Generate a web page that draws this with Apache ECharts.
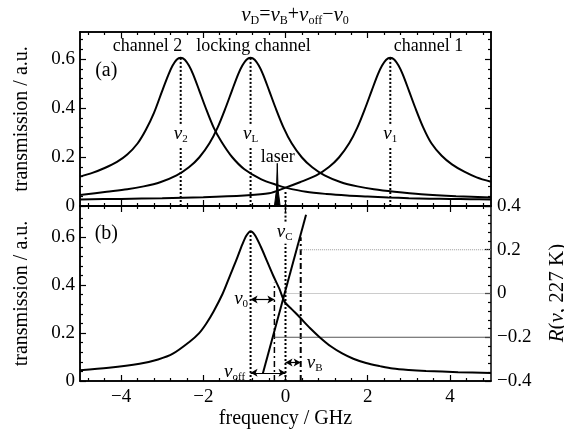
<!DOCTYPE html>
<html><head><meta charset="utf-8">
<script src="https://cdn.jsdelivr.net/npm/echarts@6/dist/echarts.min.js"></script>
<style>html,body{margin:0;padding:0;background:#fff}#c{width:564px;height:430px}</style>
</head><body><div id="c"></div>
<script>
// ---------- data ----------
const freqTicks = [-4, -2, 0, 2, 4];
const freqMinorTicks = [-4.8,-4.4,-3.6,-3.2,-2.8,-2.4,-1.6,-1.2,-0.8,-0.4,0.4,0.8,1.2,1.6,2.4,2.8,3.2,3.6,4.4,4.8];
const transTicks = [0, 0.2, 0.4, 0.6];
const transMinorTicks = [0.04,0.08,0.12,0.16,0.24,0.28,0.32,0.36,0.44,0.48,0.52,0.56,0.64,0.68];
const rTicks = [-0.4, -0.2, 0, 0.2, 0.4];

// panel (a): channel 2
const ch2Freq  = [-5,-4.7,-4.4,-4.1,-3.85,-3.6,-3.4,-3.2,-3,-2.85,-2.75,-2.65,-2.55,-2.45,-2.35,-2.25,-2.1,-1.95,-1.75,-1.55,-1.3,-1,-0.6,-0.2,0,0.5,1,1.5,2,2.5,3,3.5,4,4.5,5];
const ch2Trans = [0.12,0.135,0.155,0.18,0.21,0.255,0.31,0.38,0.47,0.535,0.572,0.597,0.605,0.597,0.573,0.538,0.472,0.404,0.321,0.26,0.2,0.15,0.11,0.085,0.075,0.058,0.049,0.043,0.039,0.035,0.032,0.03,0.029,0.028,0.027];
// panel (a): locking channel
const lockAFreq  = [-5,-4.35,-3.85,-3.45,-3.05,-2.65,-2.35,-2.1,-1.85,-1.65,-1.45,-1.3,-1.15,-1.05,-0.95,-0.85,-0.75,-0.65,-0.55,-0.4,-0.25,-0.05,0.15,0.4,0.65,0.95,1.35,1.75,2.15,2.65,3.3,4.15,5];
const lockATrans = [0.045,0.058,0.068,0.08,0.097,0.125,0.158,0.198,0.256,0.321,0.404,0.472,0.538,0.573,0.597,0.605,0.597,0.573,0.538,0.472,0.404,0.321,0.256,0.198,0.158,0.125,0.097,0.08,0.068,0.058,0.048,0.04,0.035];
// panel (a): channel 1
const ch1Freq  = [-5,-4,-3,-2,-1,-0.4,0,0.35,0.75,1.05,1.3,1.55,1.75,1.95,2.1,2.25,2.35,2.45,2.55,2.65,2.75,2.85,3,3.15,3.35,3.55,3.8,4.05,4.35,4.65,5];
const ch1Trans = [0.027,0.029,0.032,0.036,0.043,0.052,0.075,0.097,0.125,0.158,0.198,0.256,0.321,0.404,0.472,0.538,0.573,0.597,0.605,0.597,0.573,0.538,0.472,0.404,0.321,0.256,0.205,0.17,0.14,0.117,0.099];
const modeFreqs = [-2.55, -0.85, 2.55];
const modePeaks = [0.605, 0.605, 0.605];
const modeNames = ['2', 'L', '1'];
const laserFreq  = [-0.27, -0.22, -0.2, -0.18, -0.13];
const laserTrans = [0, 0.065, 0.174, 0.065, 0];

// panel (b): locking channel
const lockBFreq  = [-5,-4.3,-3.55,-3.1,-2.74,-2.34,-2.1,-1.93,-1.75,-1.53,-1.35,-1.2,-1.05,-0.95,-0.85,-0.75,-0.6,-0.45,-0.3,-0.15,-0.02,0.15,0.34,0.6,0.83,1.1,1.39,1.65,1.96,2.3,2.61,3,3.42,4.2,5];
const lockBTrans = [0.045,0.055,0.072,0.09,0.114,0.163,0.2,0.239,0.29,0.364,0.44,0.503,0.57,0.607,0.625,0.61,0.56,0.5,0.44,0.385,0.33,0.3,0.267,0.22,0.183,0.145,0.114,0.093,0.075,0.062,0.052,0.046,0.042,0.037,0.033];
const rLineFreq = [-0.55, 0.50];
const rLineVal  = [-0.365, 0.36];
const nuL = -0.85, nuC = 0, nu0pos = -0.27, nuBpos = 0.37;
const rLevels = [0.2, 0, -0.2];
const rLevelStart = [0.35, 0, -0.27];

// ---------- chart ----------
const FONT = 'Liberation Serif';
const rich = {
  n: {fontFamily: FONT, fontStyle: 'italic', fontSize: 19, color: '#000'},
  s: {fontFamily: FONT, fontSize: 11, color: '#000', padding: [10, 0, 0, 0]},
  t: {fontFamily: FONT, fontSize: 18, color: '#000'}
};
const titleRich = {
  n: {fontFamily: FONT, fontStyle: 'italic', fontSize: 21, color: '#000'},
  s: {fontFamily: FONT, fontSize: 12, color: '#000', padding: [11, 0, 0, 0]},
  t: {fontFamily: FONT, fontSize: 20, color: '#000'}
};
const nu = s => `{n|ν}{s|${s}}`;
const minus = v => (v < 0 ? '\u2212' + Math.abs(v) : String(v));
const zip = (a, b) => a.map((v, i) => [v, b[i]]);
const AX = {lineStyle: {color: '#000', width: 1.5}, onZero: false};

function xAx(grid, pos, ticks, len, labels, extra) {
  return Object.assign({
    type: 'value', gridIndex: grid, position: pos, min: -5, max: 5,
    axisLine: AX, splitLine: {show: false},
    axisTick: {show: true, inside: true, length: len, customValues: ticks, lineStyle: {color: '#000', width: 1.2}},
    axisLabel: labels ? {show: true, customValues: ticks, formatter: minus, fontFamily: FONT, fontSize: 19, color: '#000', margin: 7} : {show: false}
  }, extra || {});
}
function yAx(grid, pos, min, max, ticks, len, labels, extra) {
  return Object.assign({
    type: 'value', gridIndex: grid, position: pos, min: min, max: max,
    axisLine: AX, splitLine: {show: false},
    axisTick: {show: true, inside: true, length: len, customValues: ticks, lineStyle: {color: '#000', width: 1.2}},
    axisLabel: labels ? {show: true, customValues: ticks, formatter: minus, fontFamily: FONT, fontSize: 19, color: '#000', margin: 5} : {show: false}
  }, extra || {});
}

const nameStyle = {fontFamily: FONT, fontSize: 20, color: '#000'};
const xAxes = [
  xAx(0, 'bottom', freqTicks, 6, false), xAx(0, 'bottom', freqMinorTicks, 3, false),
  xAx(0, 'top', freqTicks, 6, false), xAx(0, 'top', freqMinorTicks, 3, false),
  xAx(1, 'bottom', freqTicks, 6, true, {name: 'frequency / GHz', nameLocation: 'middle', nameGap: 28, nameTextStyle: nameStyle}),
  xAx(1, 'bottom', freqMinorTicks, 3, false),
  xAx(1, 'top', freqTicks, 6, false), xAx(1, 'top', freqMinorTicks, 3, false)
];
const yAxes = [
  yAx(0, 'left', 0, 0.71, transTicks, 6, true, {name: 'transmission / a.u.', nameLocation: 'middle', nameGap: 48, nameTextStyle: nameStyle}),
  yAx(0, 'left', 0, 0.71, transMinorTicks, 3, false),
  yAx(0, 'right', 0, 0.71, transTicks, 6, false),
  yAx(0, 'right', 0, 0.71, transMinorTicks, 3, false),
  yAx(1, 'left', 0, 0.73, transTicks, 6, true, {name: 'transmission / a.u.', nameLocation: 'middle', nameGap: 48, nameTextStyle: nameStyle}),
  yAx(1, 'left', 0, 0.73, transMinorTicks, 3, false),
  {type: 'value', gridIndex: 1, position: 'right', min: -0.4, max: 0.4, interval: 0.2,
   axisLine: AX, splitLine: {show: false},
   axisTick: {show: true, inside: true, length: 6, lineStyle: {color: '#000', width: 1.2}},
   minorTick: {show: true, splitNumber: 5, length: 3, lineStyle: {color: '#000', width: 1.2}},
   axisLabel: {formatter: minus, fontFamily: FONT, fontSize: 19, color: '#000', margin: 6}}
];

const A = {xAxisIndex: 0, yAxisIndex: 0};
const B = {xAxisIndex: 4, yAxisIndex: 4};
const BR = {xAxisIndex: 4, yAxisIndex: 6};
const curve = (ax, x, y, w) => Object.assign({type: 'line', data: zip(x, y), smooth: 0.3, symbol: 'none',
  lineStyle: {color: '#000', width: w || 2}, silent: true, z: 3}, ax);
const seg = (ax, pts, type, w, color) => Object.assign({type: 'line', data: pts, symbol: 'none', silent: true,
  lineStyle: {color: color || '#000', width: w, type: type}, z: 2}, ax);
const text = (ax, x, y, fmt, extra) => Object.assign({type: 'scatter', data: [[x, y]], symbolSize: 1, silent: true, z: 6,
  itemStyle: {color: 'transparent', opacity: 1},
  label: Object.assign({show: true, position: 'inside', formatter: fmt, rich: rich, fontFamily: FONT, fontSize: 18, color: '#000', opacity: 1}, extra || {})}, ax);

const series = [
  curve(A, ch2Freq, ch2Trans), curve(A, lockAFreq, lockATrans), curve(A, ch1Freq, ch1Trans),
  Object.assign({type: 'line', data: zip(laserFreq, laserTrans), symbol: 'none', silent: true,
    lineStyle: {color: '#000', width: 1}, areaStyle: {color: '#000', opacity: 1}, z: 4}, A),
  seg(A, [[nuC, 0], [nuC, 0.065]], [2, 2], 2)
];
modeFreqs.forEach((f, i) => {
  series.push(seg(A, [[f, 0], [f, 0.24]], [2, 2], 2));
  series.push(seg(A, [[f, 0.335], [f, modePeaks[i]]], [2, 2], 2));
  series.push(text(A, f, 0.295, nu(modeNames[i])));
});
series.push(
  text(A, -3.36, 0.65, 'channel 2'),
  text(A, -0.78, 0.65, 'locking channel'),
  text(A, 3.48, 0.65, 'channel 1'),
  text(A, -4.36, 0.55, '(a)', {fontSize: 20}),
  text(A, -0.19, 0.2, 'laser'),
  // panel (b)
  curve(B, lockBFreq, lockBTrans),
  curve(BR, rLineFreq, rLineVal),
  seg(B, [[nuL, 0], [nuL, 0.625]], [2, 2], 2),
  seg(B, [[nuC, 0], [nuC, 0.573]], [2, 2], 2),
  seg(B, [[nuC, 0.665], [nuC, 0.73]], [2, 2], 2),
  seg(B, [[nu0pos, 0], [nu0pos, 0.41]], [6, 3, 2, 3], 1.5),
  seg(B, [[nuBpos, 0], [nuBpos, 0.6]], [6, 3, 2, 3], 2)
);
rLevels.forEach((r, i) => {
  series.push(seg(BR, [[rLevelStart[i], r], [5, r]], i === 2 ? 'solid' : [1, 1], 1, i === 2 ? '#555' : '#999'));
});
series.push(
  Object.assign({type: 'line', data: [], silent: true,
    markLine: {silent: true, symbol: ['arrow', 'arrow'], symbolSize: [6, 7], label: {show: false},
      lineStyle: {color: '#000', type: 'solid', width: 1.2},
      data: [
        [{coord: [nuL, 0.34]}, {coord: [nu0pos, 0.34]}],
        [{coord: [nuL, 0.034]}, {coord: [nuC, 0.034]}],
        [{coord: [nuC, 0.077]}, {coord: [nuBpos, 0.077]}]
      ]}}, B),
  text(B, -4.36, 0.615, '(b)', {fontSize: 20}),
  text(B, -0.02, 0.62, nu('C')),
  text(B, -1.08, 0.34, nu('0')),
  text(B, -1.24, 0.036, nu('off')),
  text(B, 0.71, 0.074, nu('B'))
);

const chart = echarts.init(document.getElementById('c'), null, {renderer: 'canvas'});
chart.setOption({
  animation: false,
  backgroundColor: '#fff',
  grid: [
    {left: 80, right: 73, top: 32, height: 174},
    {left: 80, right: 73, top: 206, height: 175}
  ],
  xAxis: xAxes,
  yAxis: yAxes,
  series: series,
  graphic: [
    {type: 'text', x: 295, y: 15, style: {
      text: '{n|ν}{s|D}{t|=}{n|ν}{s|B}{t|+}{n|ν}{s|off}{t|\u2212}{n|ν}{s|0}', rich: titleRich,
      align: 'center', verticalAlign: 'middle'}},
    {type: 'text', x: 557, y: 293, rotation: Math.PI / 2, style: {
      text: '{i|R}{t|(}{n|ν}{t|, 227 K)}', align: 'center', verticalAlign: 'middle',
      rich: {i: {fontFamily: FONT, fontStyle: 'italic', fontSize: 21, color: '#000'},
             n: {fontFamily: FONT, fontStyle: 'italic', fontSize: 21, color: '#000'},
             t: {fontFamily: FONT, fontSize: 21, color: '#000'}}}}
  ]
});
</script></body></html>
